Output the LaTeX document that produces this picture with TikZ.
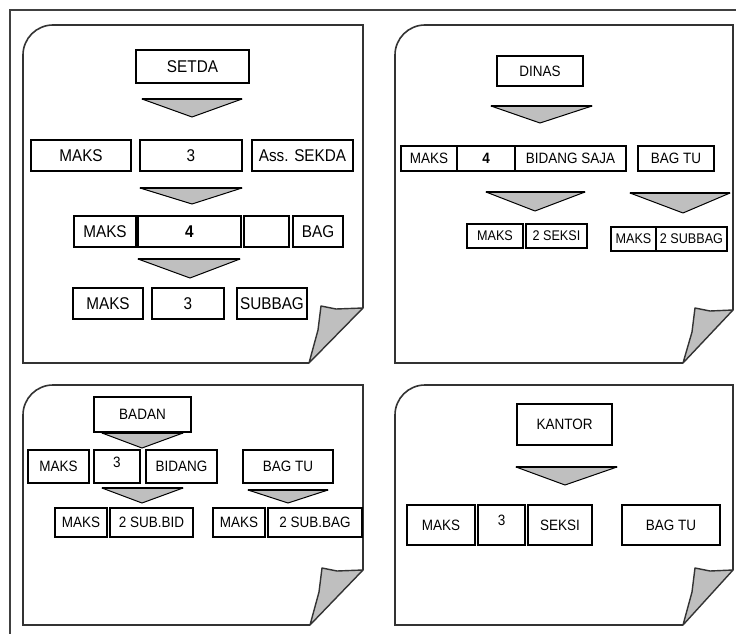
\documentclass[tikz,border=0pt]{standalone}
\usepackage{fontspec}
\setmainfont{Liberation Sans}[FakeStretch=0.9]
\begin{document}
\begin{tikzpicture}[x=1pt,y=-1pt,
  frame/.style={draw=black!75,line width=2pt},
  page/.style={draw=black!80,line width=1.6pt},
  curl/.style={fill=black!25,draw=black!80,line width=1.4pt,line join=round},
  bx/.style={draw=black,line width=1.3pt,inner sep=0pt,outer sep=0pt},
  chev/.style={fill=black!25,draw=black,line width=1pt,line join=round},
  fA/.style={font=\fontsize{17}{17}\selectfont},
  fB/.style={font=\fontsize{15}{15}\selectfont},
  fC/.style={font=\fontsize{14}{14}\selectfont}]
\newcommand\bx[7][fB]{\node[bx,#1,minimum width={(#4-#2)*1pt},minimum height={(#5-#3)*1pt}] (#7) at ({(#2+#4)/2},{(#3+#5)/2}) {#6};}
\newcommand\chevron[5]{\filldraw[chev] (#1,#3) -- (#2,#3) -- (#4,#5) -- cycle; \draw[line width=2pt] (#1,#3) -- (#2,#3);}
\newcommand\sheet[6]{%
  \draw[page] (#5,#4) -- (#1,#4) -- (#1,#2+30) arc[start angle=180,end angle=270,radius=30] -- (#3,#2) -- (#3,#6);
  \filldraw[curl] (#3,#6) -- ({#5+27},{#6+1}) -- ({#5+12},{#6-2}) -- ({#5+9},{#6+22}) -- (#5,#4) -- cycle;
}
\useasboundingbox (0,0) rectangle (736,634);
\fill[white] (0,0) rectangle (736,634);
\draw[frame] (10,634) -- (10,10) -- (736,10);

% ---------- sheet 1 : SETDA ----------
\sheet{23}{25}{363}{363}{309}{308}
\bx[fA]{136}{50}{249}{83}{SETDA}{setda}
\chevron{142}{242}{99}{192}{117}
\bx[fA]{31}{140}{131}{171}{MAKS}{s1maks}
\bx[fA]{140}{140}{242}{171}{3}{s1n}
\bx[fA]{252}{140}{353}{171}{Ass. SEKDA}{s1ass}
\chevron{140}{242}{188}{192}{204}
\bx[fA]{74}{216}{136}{247}{MAKS}{s2maks}
\bx[fA]{138}{216}{241}{247}{\bfseries 4}{s2n}
\bx[fA]{244}{216}{289}{247}{}{s2e}
\bx[fA]{293}{216}{343}{247}{BAG}{s2bag}
\chevron{138}{240}{259}{190}{278}
\bx[fA]{73}{288}{143}{319}{MAKS}{s3maks}
\bx[fA]{152}{288}{224}{319}{3}{s3n}
\bx[fA]{237}{288}{307}{319}{SUBBAG}{s3sub}

% ---------- sheet 2 : DINAS ----------
\sheet{395}{25}{733}{363}{683}{310}
\bx{497}{56}{583}{86}{DINAS}{dinas}
\chevron{491}{592}{106}{540}{123}
\bx{401}{146}{457}{171}{MAKS}{d1maks}
\bx{457}{146}{515}{171}{\bfseries 4}{d1n}
\bx{515}{146}{626}{171}{BIDANG SAJA}{d1bid}
\bx{638}{146}{714}{171}{BAG TU}{d1bag}
\chevron{486}{585}{192}{535}{211}
\chevron{630}{730}{193}{683}{213}
\bx[fC]{467}{224}{523}{248}{MAKS}{d2maks}
\bx[fC]{526}{224}{587}{248}{2 SEKSI}{d2sek}
\bx[fC]{611}{227}{656}{251}{MAKS}{d3maks}
\bx[fC]{656}{227}{727}{251}{2 SUBBAG}{d3sub}

% ---------- sheet 3 : BADAN ----------
\sheet{23}{385}{363}{625}{310}{570}
\bx{94}{397}{191}{432}{BADAN}{badan}
\chevron{102}{183}{433}{142}{448}
\bx{28}{450}{89}{483}{MAKS}{b1maks}
\bx{94}{450}{140}{483}{\raisebox{8pt}{3}}{b1n}
\bx{146}{450}{217}{483}{BIDANG}{b1bid}
\bx{243}{450}{333}{483}{BAG TU}{b1bag}
\chevron{102}{183}{488}{142}{503}
\chevron{248}{328}{490}{288}{503}
\bx{55}{508}{107}{537}{MAKS}{b2maks}
\bx{110}{508}{193}{537}{2 SUB.BID}{b2sub}
\bx{213}{508}{265}{537}{MAKS}{b3maks}
\bx{268}{508}{362}{537}{2 SUB.BAG}{b3sub}

% ---------- sheet 4 : KANTOR ----------
\sheet{395}{385}{733}{625}{683}{570}
\bx{517}{404}{612}{445}{KANTOR}{kantor}
\chevron{516}{617}{467}{565}{485}
\bx{407}{505}{475}{545}{MAKS}{k1maks}
\bx{478}{505}{525}{545}{\raisebox{10pt}{3}}{k1n}
\bx{528}{505}{592}{545}{SEKSI}{k1sek}
\bx{622}{505}{720}{545}{BAG TU}{k1bag}
\end{tikzpicture}
\end{document}
